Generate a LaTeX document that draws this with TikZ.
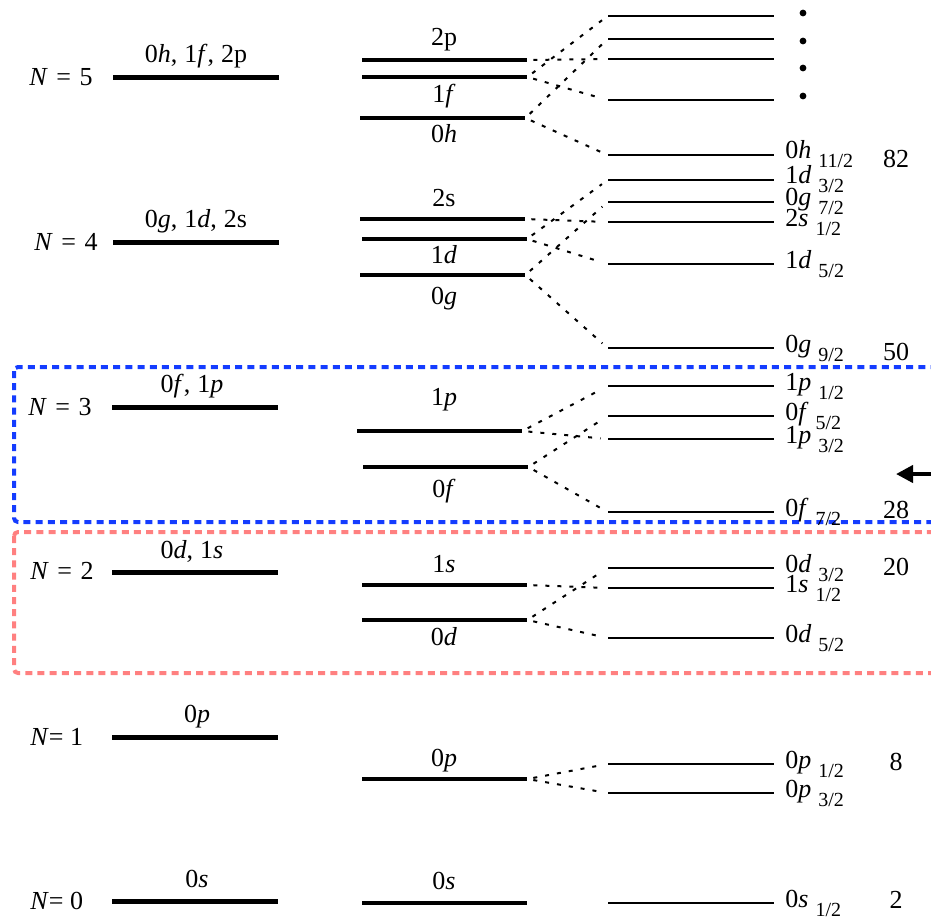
\documentclass[tikz,border=0pt]{standalone}
\usepackage{fontspec}
\setmainfont{Liberation Serif}
\usetikzlibrary{arrows.meta}
\newcommand\shl[3]{#1\textit{#2}\hspace{3.5pt}\raisebox{-4.5pt}{\fontsize{10}{10}\selectfont #3}}
\newcommand\cm{,\hspace{3.5pt}}
\begin{document}
\begin{tikzpicture}[x=0.5pt,y=-0.5pt,
  every node/.style={font=\fontsize{13}{13}\selectfont},
  lbar/.style={fill=black,inner sep=0pt,minimum width=83pt,minimum height=2.5pt},
  mbar/.style={fill=black,inner sep=0pt,minimum width=82.5pt,minimum height=2.4pt},
  rlev/.style={fill=black,inner sep=0pt,minimum width=83pt,minimum height=0.9pt},
  txt/.style={anchor=base,inner sep=0pt},
  rtxt/.style={anchor=base west,inner sep=0pt},
  conn/.style={line width=1pt,dash pattern=on 2pt off 4pt,shorten <=3pt,shorten >=3.5pt},
  bluebox/.style={draw={rgb,255:red,20;green,60;blue,255},line width=2pt,dash pattern=on 3.5pt off 2.6pt,rounded corners=2pt},
  pinkbox/.style={draw={rgb,255:red,255;green,128;blue,128},line width=2pt,dash pattern=on 3.5pt off 2.6pt,rounded corners=2pt}]
\useasboundingbox (0,0) rectangle (931,923);
\clip (0,0) rectangle (931,923);
% boxes
\draw[bluebox] (14,367) rectangle (960,522);
\draw[pinkbox] (14,532) rectangle (960,673);
% left column
\node[lbar] (L5) at (196,77) {};
\node[lbar] (L4) at (196,242) {};
\node[lbar] (L3) at (195,407) {};
\node[lbar] (L2) at (195,572) {};
\node[lbar] (L1) at (195,737) {};
\node[lbar] (L0) at (195,901) {};
\node[rtxt] (N5) at (29,85) {\textit{N}\hspace{1pt} = \hspace{1pt}5};
\node[rtxt] (N4) at (34,250) {\textit{N}\hspace{1pt} = \hspace{1pt}4};
\node[rtxt] (N3) at (28,415) {\textit{N}\hspace{1pt} = \hspace{1pt}3};
\node[rtxt] (N2) at (30,579) {\textit{N}\hspace{1pt} = \hspace{1pt}2};
\node[rtxt] (N1) at (30,745) {\textit{N}= 1};
\node[rtxt] (N0) at (30,909) {\textit{N}= 0};
\node[txt] (T5) at (196,62) {0\textit{h}\cm 1\textit{f}\cm 2p};
\node[txt] (T4) at (196,227) {0\textit{g}\cm 1\textit{d}\cm 2s};
\node[txt] (T3) at (192,392) {0\textit{f}\cm 1\textit{p}};
\node[txt] (T2) at (192,558) {0\textit{d}\cm 1\textit{s}};
\node[txt] (T1) at (197,722) {0\textit{p}};
\node[txt] (T0) at (197,887) {0\textit{s}};
% middle column
\node[mbar] (m2p) at (444.5,60) {};
\node[mbar] (m1f) at (444.5,77) {};
\node[mbar] (m0h) at (442.5,118) {};
\node[mbar] (m2s) at (442.5,219) {};
\node[mbar] (m1d) at (444,239) {};
\node[mbar] (m0g) at (442.5,275) {};
\node[mbar] (m1p) at (439.5,431) {};
\node[mbar] (m0f) at (445.5,467) {};
\node[mbar] (m1s) at (444.5,585) {};
\node[mbar] (m0d) at (444.5,620) {};
\node[mbar] (m0p) at (444.5,779) {};
\node[mbar] (m0s) at (444.5,903) {};
\node[txt] (t2p) at (444,45) {2p};
\node[txt] (t1f) at (444,102) {1\textit{f}};
\node[txt] (t0h) at (444,142) {0\textit{h}};
\node[txt] (t2s) at (444,206) {2s};
\node[txt] (t1d) at (444,263) {1\textit{d}};
\node[txt] (t0g) at (444,304) {0\textit{g}};
\node[txt] (t1p) at (444,405) {1\textit{p}};
\node[txt] (t0f) at (444,497) {0\textit{f}};
\node[txt] (t1s) at (444,572) {1\textit{s}};
\node[txt] (t0d) at (444,645) {0\textit{d}};
\node[txt] (t0p) at (444,766) {0\textit{p}};
\node[txt] (t0s) at (444,889) {0\textit{s}};
% right column
\node[rlev] (r1fa) at (691,16) {};
\node[rlev] (r0ha) at (691,39) {};
\node[rlev] (r2p) at (691,59) {};
\node[rlev] (r1fb) at (691,100) {};
\node[rlev] (r0h) at (691,155) {};
\node[rlev] (r1da) at (691,180) {};
\node[rlev] (r0ga) at (691,202) {};
\node[rlev] (r2s) at (691,222) {};
\node[rlev] (r1db) at (691,264) {};
\node[rlev] (r0gb) at (691,348) {};
\node[rlev] (r1pa) at (691,386) {};
\node[rlev] (r0fa) at (691,416) {};
\node[rlev] (r1pb) at (691,439) {};
\node[rlev] (r0fb) at (691,512) {};
\node[rlev] (r0da) at (691,568) {};
\node[rlev] (r1s) at (691,588) {};
\node[rlev] (r0db) at (691,638) {};
\node[rlev] (r0pa) at (691,764) {};
\node[rlev] (r0pb) at (691,793) {};
\node[rlev] (r0sr) at (691,903) {};
% dots
\fill (803,13) circle (1.7pt);
\fill (803,41) circle (1.7pt);
\fill (803,68) circle (1.7pt);
\fill (803,96) circle (1.7pt);
% right labels
\node[rtxt] (s0h) at (785,158) {\shl{0}{h}{11/2}};
\node[rtxt] (s1da) at (785,183) {\shl{1}{d}{3/2}};
\node[rtxt] (s0ga) at (785,205) {\shl{0}{g}{7/2}};
\node[rtxt] (s2s) at (785,226) {\shl{2}{s}{1/2}};
\node[rtxt] (s1db) at (785,268) {\shl{1}{d}{5/2}};
\node[rtxt] (s0gb) at (785,352) {\shl{0}{g}{9/2}};
\node[rtxt] (s1pa) at (785,390) {\shl{1}{p}{1/2}};
\node[rtxt] (s0fa) at (785,420) {\shl{0}{f}{5/2}};
\node[rtxt] (s1pb) at (785,443) {\shl{1}{p}{3/2}};
\node[rtxt] (s0fb) at (785,516) {\shl{0}{f}{7/2}};
\node[rtxt] (s0da) at (785,572) {\shl{0}{d}{3/2}};
\node[rtxt] (s1s) at (785,592) {\shl{1}{s}{1/2}};
\node[rtxt] (s0db) at (785,642) {\shl{0}{d}{5/2}};
\node[rtxt] (s0pa) at (785,768) {\shl{0}{p}{1/2}};
\node[rtxt] (s0pb) at (785,797) {\shl{0}{p}{3/2}};
\node[rtxt] (s0s) at (785,907) {\shl{0}{s}{1/2}};
% magic numbers
\node[txt] (n82) at (896,167) {82};
\node[txt] (n50) at (896,360) {50};
\node[txt] (n28) at (896,518) {28};
\node[txt] (n20) at (896,575) {20};
\node[txt] (n8) at (896,770) {8};
\node[txt] (n2) at (896,908) {2};
% connectors
\draw[conn] (m2p.east) -- (r2p.west);
\draw[conn] (m1f.east) -- (r1fa.west);
\draw[conn] (m1f.east) -- (r1fb.west);
\draw[conn] (m0h.east) -- (r0ha.west);
\draw[conn] (m0h.east) -- (r0h.west);
\draw[conn] (m2s.east) -- (r2s.west);
\draw[conn] (m1d.east) -- (r1da.west);
\draw[conn] (m1d.east) -- (r1db.west);
\draw[conn] (m0g.east) -- (r0ga.west);
\draw[conn] (m0g.east) -- (r0gb.west);
\draw[conn] (m1p.east) -- (r1pa.west);
\draw[conn] (m1p.east) -- (r1pb.west);
\draw[conn] (m0f.east) -- (r0fa.west);
\draw[conn] (m0f.east) -- (r0fb.west);
\draw[conn] (m1s.east) -- (r1s.west);
\draw[conn] (m0d.east) -- (r0da.west);
\draw[conn] (m0d.east) -- (r0db.west);
\draw[conn] (m0p.east) -- (r0pa.west);
\draw[conn] (m0p.east) -- (r0pb.west);
% arrow
\coordinate (arrS) at (940,474);
\coordinate (arrT) at (896,474);
\draw[line width=2pt,-{Triangle[length=8.5pt,width=8.5pt]}] (arrS) -- (arrT);
\end{tikzpicture}
\end{document}
